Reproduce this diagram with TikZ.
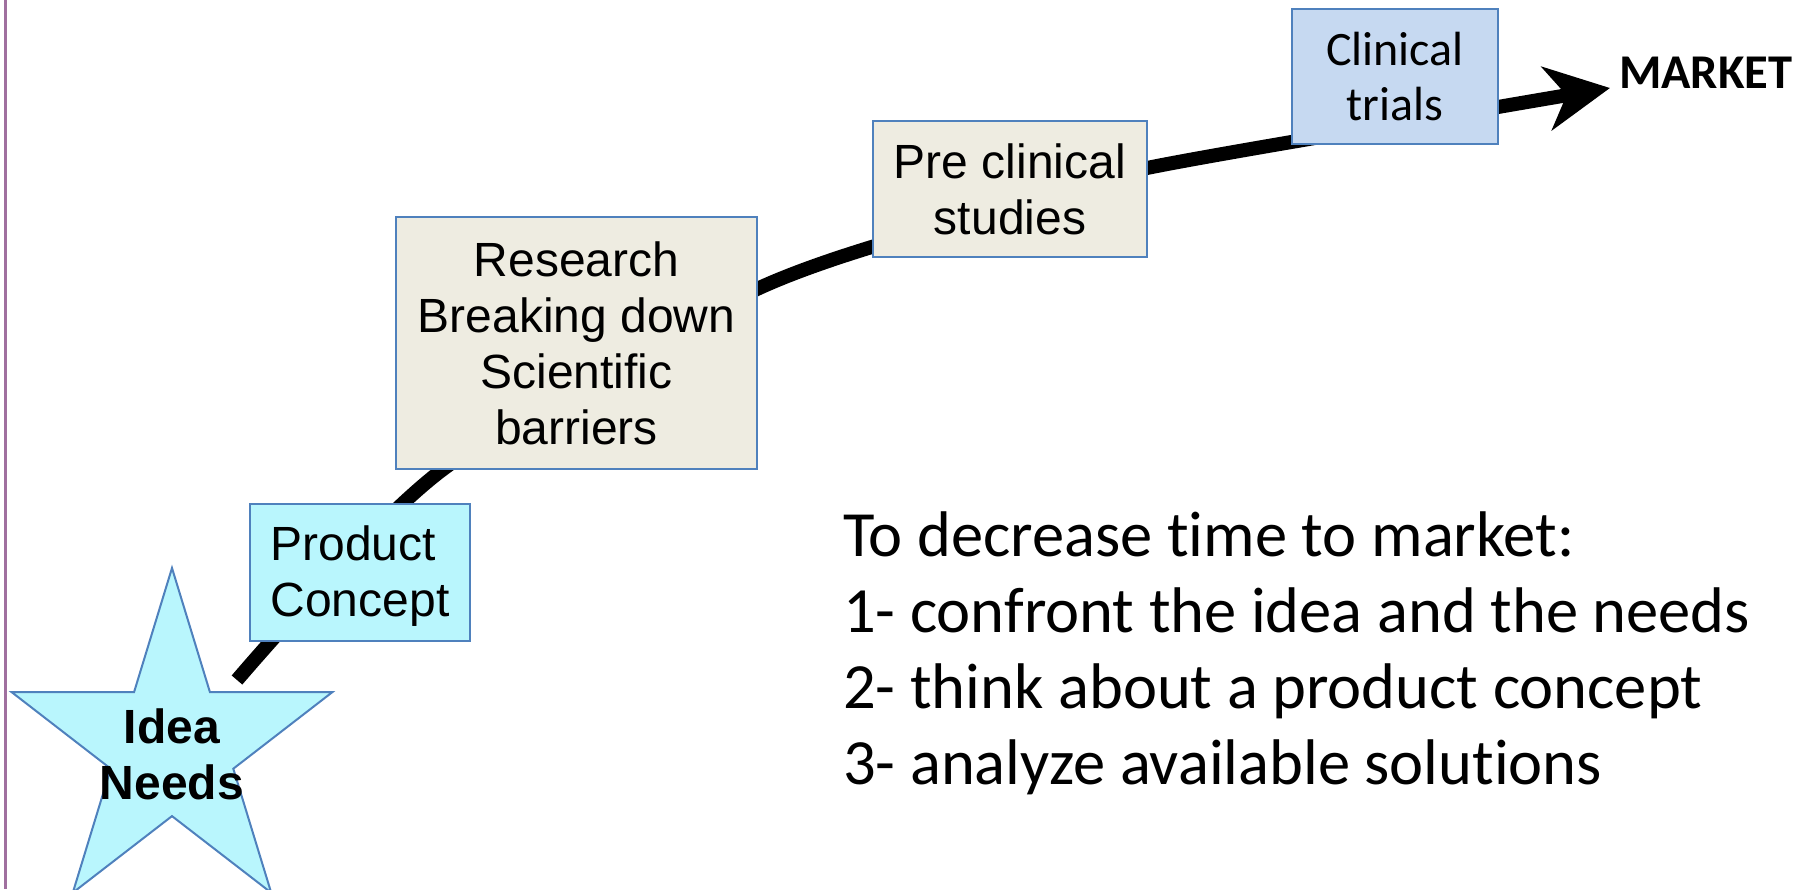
\documentclass[tikz,border=0pt]{standalone}
\usepackage{fontspec}
\setmainfont{Liberation Sans}
\newfontfamily\calib[Ligatures=NoCommon]{Carlito}
\usetikzlibrary{arrows.meta}
\definecolor{cyanfill}{HTML}{B9F6FD}
\definecolor{tanfill}{HTML}{EEECE1}
\definecolor{bluefill}{HTML}{C6D9F1}
\definecolor{boxborder}{HTML}{4F81BD}
\definecolor{sideline}{HTML}{A0709F}
\begin{document}
\begin{tikzpicture}[x=1pt,y=-1pt,
  stagebox/.style={draw=boxborder, line width=2pt, inner sep=0pt, align=center,
    font=\fontsize{48}{56}\selectfont},
  flow/.style={line width=14pt, black, -{Stealth[length=64pt,width=64pt,inset=20pt]}},
  starshape/.style={draw=boxborder, line width=2pt, fill=cyanfill},
]
\useasboundingbox (0,0) rectangle (1807,889);
\draw[sideline, line width=2.5pt] (5.3,0) -- (5.3,889);

% curve points
\coordinate (s0) at (237,680);
\coordinate (s1) at (442,470);
\coordinate (s2) at (757,289);
\coordinate (s3) at (1010,207);
\coordinate (s4) at (1147,168);
\coordinate (s5) at (1498,107);
\coordinate (tip) at (1610,88);
\draw[flow] plot[smooth,tension=0.5] coordinates {(s0) (s1) (s2) (s3) (s4) (s5) (tip)};

% star
\draw[starshape] (172,568) -- (209.9,692) -- (332.5,692) -- (233.3,768.7) -- (271.2,892.7)
  -- (172,816.1) -- (72.8,892.7) -- (110.7,768.7) -- (11.5,692) -- (134.1,692) -- cycle;
\node[inner sep=0pt, align=center, font=\bfseries\fontsize{48}{56}\selectfont] (idea) at (172,754) {Idea\\Needs};

% boxes
\node[stagebox, fill=cyanfill, minimum width=220pt, minimum height=137pt, align=left] (product) at (360,572.5) {\rule{0pt}{42pt}Product\\Concept};
\node[stagebox, fill=tanfill, minimum width=361pt, minimum height=252pt] (research) at (576.5,343) {Research\\Breaking down\\Scientific\\barriers};
\node[stagebox, fill=tanfill, minimum width=274pt, minimum height=136pt] (preclin) at (1010,189) {Pre clinical\\studies};
\node[stagebox, fill=bluefill, minimum width=206pt, minimum height=135pt, font=\calib\fontsize{48}{55}\selectfont] (clin) at (1395,76.5) {Clinical\\trials};

\node[anchor=base west, inner sep=0pt, font=\calib\bfseries\fontsize{48.5}{56}\selectfont] (market) at (1619,88) {MARKET};

\node[anchor=base west, inner sep=0pt, align=left, font=\calib\fontsize{64.5}{76}\selectfont] (notes) at (843,784)
  {To decrease time to market:\\1- confront the idea and the needs\\2- think about a product concept\\3- analyze available solutions};
\end{tikzpicture}
\end{document}
